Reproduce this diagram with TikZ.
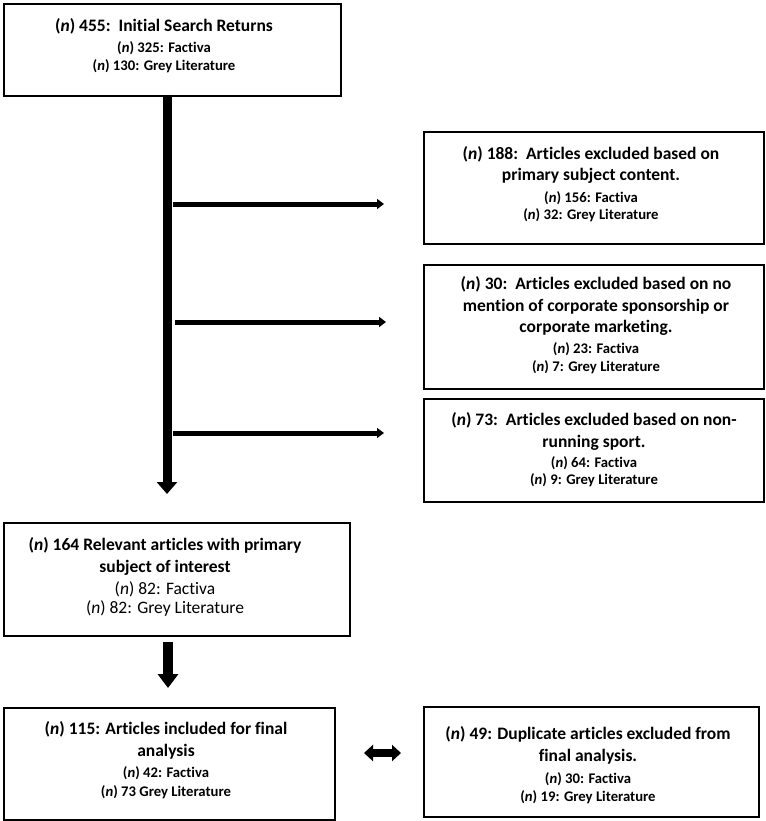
\documentclass[tikz,border=0pt]{standalone}
\usepackage{fontspec}
\setmainfont{Carlito}[Ligatures=NoCommon]
\usetikzlibrary{arrows.meta}
\newcommand\nn{(\textit{n})}
\newcommand\hdl[1]{{\fontsize{17.5}{17.5}\selectfont\bfseries #1}}
\newcommand\sbl[1]{{\fontsize{14.7}{17.5}\selectfont\bfseries #1}}
\newcommand\rgl[1]{{\fontsize{17.5}{17.5}\selectfont #1}}
\begin{document}
\begin{tikzpicture}[x=1pt,y=-1pt,
  box/.style={draw=black,line width=1.8pt,anchor=north west,inner sep=0pt},
  txt/.style={align=center,inner sep=0pt,font=\fontsize{14.7}{17.5}\selectfont},
  thick arrow/.style={line width=9pt,-{Triangle[width=20pt,length=12pt]}},
  mid arrow/.style={line width=10pt,-{Triangle[width=20pt,length=14pt]}},
  side arrow/.style={line width=5pt,-{Triangle[width=10pt,length=7pt]}},
  dbl arrow/.style={line width=7.5pt,{Triangle[width=16pt,length=9pt]}-{Triangle[width=16pt,length=9pt]}}]
\useasboundingbox (0,0) rectangle (765,821);
\fill[white] (0,0) rectangle (765,821);

% boxes
\node[box,minimum width=337pt,minimum height=92pt] (b1) at (3,3) {};
\node[box,minimum width=340pt,minimum height=112pt] (b2) at (423,131) {};
\node[box,minimum width=340pt,minimum height=124pt] (b3) at (423,264) {};
\node[box,minimum width=340pt,minimum height=103pt] (b4) at (423,398) {};
\node[box,minimum width=346pt,minimum height=113pt] (b5) at (3,522) {};
\node[box,minimum width=331pt,minimum height=112pt] (b6) at (3,707) {};
\node[box,minimum width=335pt,minimum height=110pt] (b7) at (423,706) {};

% texts
\node[txt] (b1t) at (164,45.5)
  {\hdl{\nn\ 455:\ \ Initial Search Returns}\\[3.5pt]
   \sbl{\nn\ 325: Factiva}\\
   \sbl{\nn\ 130: Grey Literature}};

\node[txt] (b2t) at (591,184)
  {\hdl{\nn\ 188:\ \ Articles excluded based on}\\[4pt]
   \hdl{primary subject content.}\\[4pt]
   \sbl{\nn\ 156: Factiva}\\
   \sbl{\nn\ 32: Grey Literature}};

\node[txt] (b3t) at (596,325)
  {\hdl{\nn\ 30:\ \ Articles excluded based on no}\\[4.5pt]
   \hdl{mention of corporate sponsorship or}\\[4pt]
   \hdl{corporate marketing.}\\[3.5pt]
   \sbl{\nn\ 23: Factiva}\\
   \sbl{\nn\ 7: Grey Literature}};

\node[txt] (b4t) at (594,450)
  {\hdl{\nn\ 73:\ \ Articles excluded based on non-}\\[4pt]
   \hdl{running sport.}\\[2.5pt]
   \sbl{\nn\ 64: Factiva}\\
   \sbl{\nn\ 9: Grey Literature}};

\node[txt] (b5t) at (165,577)
  {\hdl{\nn\ 164 Relevant articles with primary}\\[4pt]
   \hdl{subject of interest}\\[4.5pt]
   \rgl{\nn\ 82: Factiva}\\[1.5pt]
   \rgl{\nn\ 82: Grey Literature}};

\node[txt] (b6t) at (166,760)
  {\hdl{\nn\ 115: Articles included for final}\\[4.5pt]
   \hdl{analysis}\\[3.5pt]
   \sbl{\nn\ 42: Factiva}\\[2pt]
   \sbl{\nn\ 73 Grey Literature}};

\node[txt] (b7t) at (588,765)
  {\hdl{\nn\ 49: Duplicate articles excluded from}\\[4.5pt]
   \hdl{final analysis.}\\[4.5pt]
   \sbl{\nn\ 30: Factiva}\\
   \sbl{\nn\ 19: Grey Literature}};

% main spine
\coordinate (s0) at (167,95);
\coordinate (s1) at (167,494);
\draw[thick arrow] (s0) -- (s1);

% side arrows
\coordinate (h1a) at (173,204); \coordinate (h1b) at (384,204);
\coordinate (h2a) at (175,322); \coordinate (h2b) at (386,322);
\coordinate (h3a) at (173,433); \coordinate (h3b) at (384,433);
\draw[side arrow] (h1a) -- (h1b);
\draw[side arrow] (h2a) -- (h2b);
\draw[side arrow] (h3a) -- (h3b);

% b5 -> b6
\coordinate (m0) at (168,642);
\coordinate (m1) at (168,688);
\draw[mid arrow] (m0) -- (m1);

% double arrow
\coordinate (d0) at (364,753);
\coordinate (d1) at (401,753);
\draw[dbl arrow] (d0) -- (d1);
\end{tikzpicture}
\end{document}
